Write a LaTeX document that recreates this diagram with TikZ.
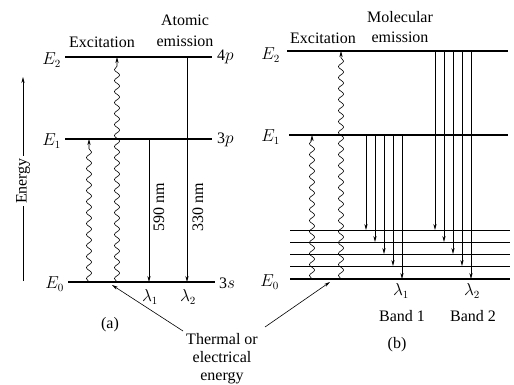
\documentclass[tikz,border=0pt]{standalone}
\usepackage{fontspec}
\setmainfont{Liberation Serif}
\usetikzlibrary{arrows.meta,decorations.pathmorphing}
\begin{document}
\begin{tikzpicture}[x=1pt,y=-1pt,
  lvl/.style={line width=2.2pt},
  sub/.style={line width=0.6pt},
  em/.style={line width=0.6pt,-{Stealth[length=6pt,width=3.2pt]}},
  wav/.style={line width=0.6pt,-{Stealth[length=6pt,width=3.2pt]},decorate,
    decoration={snake,amplitude=2.6pt,segment length=11pt,post length=5pt}},
  lab/.style={font=\fontsize{16}{18}\selectfont,inner sep=0pt}]
\useasboundingbox (0,0) rectangle (514,385);
% ---------- (a) ----------
\coordinate (aE2l) at (65,57);  \coordinate (aE2r) at (212,57);
\coordinate (aE1l) at (65,139); \coordinate (aE1r) at (212,139);
\coordinate (aE0l) at (68,282); \coordinate (aE0r) at (215,282);
\draw[lvl] (aE2l) -- (aE2r);
\draw[lvl] (aE1l) -- (aE1r);
\draw[lvl] (aE0l) -- (aE0r);
\node[lab,anchor=east] (aE2) at (61,60) {$E_2$};
\node[lab,anchor=east] (aE1) at (61,141) {$E_1$};
\node[lab,anchor=east] (aE0) at (64,284) {$E_0$};
\node[lab,anchor=west] (a4p) at (217,57) {4$p$};
\node[lab,anchor=west] (a3p) at (217,140) {3$p$};
\node[lab,anchor=west] (a3s) at (219,283) {3$s$};
\coordinate (aw1b) at (89,282); \coordinate (aw1t) at (89,139);
\coordinate (aw2b) at (117,282); \coordinate (aw2t) at (117,57);
\draw[wav] (aw1b) -- (aw1t);
\draw[wav] (aw2b) -- (aw2t);
\coordinate (ae1t) at (149,139); \coordinate (ae1b) at (149,282);
\coordinate (ae2t) at (187,57);  \coordinate (ae2b) at (187,282);
\draw[em] (ae1t) -- (ae1b);
\draw[em] (ae2t) -- (ae2b);
\node[lab,rotate=90] (a590) at (159,207) {590 nm};
\node[lab,rotate=90] (a330) at (198,207) {330 nm};
\node[lab] (al1) at (150,297) {$\lambda_1$};
\node[lab] (al2) at (188,297) {$\lambda_2$};
\node[lab] (aexc) at (102,42) {Excitation};
\node[lab] (aat) at (185,20) {Atomic};
\node[lab] (aemi) at (185,41) {emission};
\node[lab] (alab) at (110,325) {(a)};
% energy axis
\node[lab,rotate=90,inner sep=2pt] (energy) at (23,181) {Energy};
\coordinate (enb) at (23,281); \coordinate (ent) at (23,77);
\draw[line width=0.6pt] (enb) -- (energy.west);
\draw[em] (energy.east) -- (ent);
% ---------- (b) ----------
\coordinate (bE2l) at (287,51);  \coordinate (bE2r) at (508,51);
\coordinate (bE1l) at (289,135); \coordinate (bE1r) at (508,135);
\coordinate (bE0l) at (290,279); \coordinate (bE0r) at (510,279);
\draw[lvl] (bE2l) -- (bE2r);
\draw[lvl] (bE1l) -- (bE1r);
\draw[lvl] (bE0l) -- (bE0r);
\foreach \y/\n in {230/1,242/2,254/3,266/4}{
  \coordinate (bs\n l) at (290,\y); \coordinate (bs\n r) at (510,\y);
  \draw[sub] (bs\n l) -- (bs\n r);
}
\node[lab,anchor=east] (bE2) at (280,55) {$E_2$};
\node[lab,anchor=east] (bE1) at (280,137) {$E_1$};
\node[lab,anchor=east] (bE0) at (279,282) {$E_0$};
\coordinate (bw1b) at (312,279); \coordinate (bw1t) at (312,135);
\coordinate (bw2b) at (341,279); \coordinate (bw2t) at (341,51);
\draw[wav] (bw1b) -- (bw1t);
\draw[wav] (bw2b) -- (bw2t);
\foreach \x/\y in {366/230,375/242,384/254,393/266,402/279}{
  \coordinate (b1t\x) at (\x,135); \coordinate (b1b\x) at (\x,\y);
  \draw[em] (b1t\x) -- (b1b\x);
}
\foreach \x/\y in {435/230,444/242,453/254,462/266,471/279}{
  \coordinate (b2t\x) at (\x,51); \coordinate (b2b\x) at (\x,\y);
  \draw[em] (b2t\x) -- (b2b\x);
}
\node[lab] (bl1) at (401,291) {$\lambda_1$};
\node[lab] (bl2) at (472,291) {$\lambda_2$};
\node[lab] (band1) at (402,316) {Band 1};
\node[lab] (band2) at (473,316) {Band 2};
\node[lab] (bexc) at (323,38) {Excitation};
\node[lab] (bmol) at (400,17) {Molecular};
\node[lab] (bemi) at (400,37) {emission};
\node[lab] (blab) at (397,345) {(b)};
% ---------- thermal ----------
\node[lab,align=center] (therm) at (222,359) {Thermal or\\[0pt]electrical\\[0pt]energy};
\coordinate (tha) at (112,285);
\coordinate (thb) at (330,282);
\coordinate (ths1) at (183,331);
\coordinate (ths2) at (265,327);
\draw[em] (ths1) -- (tha);
\draw[em] (ths2) -- (thb);
\end{tikzpicture}
\end{document}
